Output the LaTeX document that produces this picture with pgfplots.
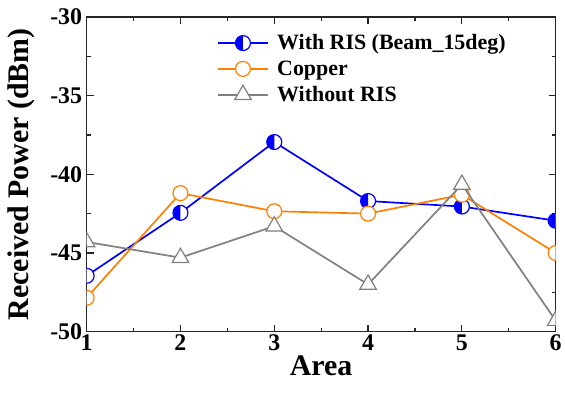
\documentclass[border=0pt]{standalone}
\usepackage{fontspec}
\setmainfont{Liberation Serif}
\usepackage{pgfplots}
\pgfplotsset{compat=1.18}
\definecolor{risblue}{RGB}{0,0,255}
\definecolor{copper}{RGB}{255,128,0}
\definecolor{norisgray}{RGB}{128,128,128}
\pgfdeclareplotmark{lefthalfcircle}{%
  \pgfpathcircle{\pgfpointorigin}{\pgfplotmarksize}%
  \pgfsetfillcolor{white}%
  \pgfusepathqfill
  \pgfpathmoveto{\pgfqpoint{0pt}{\pgfplotmarksize}}%
  \pgfpatharc{90}{270}{\pgfplotmarksize}%
  \pgfpathclose
  \pgfsetfillcolor{risblue}%
  \pgfusepathqfill
  \pgfpathcircle{\pgfpointorigin}{\pgfplotmarksize}%
  \pgfusepathqstroke
}
\begin{document}
\begin{tikzpicture}
\begin{axis}[
  scale only axis,
  width=471pt, height=316pt,
  xmin=1, xmax=6, ymin=-50, ymax=-30,
  xtick={1,2,3,4,5,6},
  ytick={-50,-45,-40,-35,-30},
  minor x tick num=1, minor y tick num=1,
  tick align=inside,
  major tick length=7pt, minor tick length=4pt,
  axis line style={line width=1.3pt, black!85},
  every tick/.style={line width=1.2pt, black!85},
  /pgf/number format/assume math mode=true,
  ticklabel style={font=\fontsize{24}{26}\selectfont\bfseries},
  xticklabel style={anchor=base, yshift=-19pt},
  yticklabel style={anchor=east, xshift=-1pt},
  xlabel={Area},
  ylabel={Received Power (dBm)},
  label style={font=\fontsize{30}{32}\selectfont\bfseries},
  xlabel style={at={(axis description cs:0.5,-0.14)}, anchor=base},
  ylabel style={at={(axis description cs:-0.139,0.5)}, anchor=center, rotate=0},
  clip marker paths=true,
  legend style={draw=none, fill=none, at={(rel axis cs:0.278,0.952)}, anchor=north west,
    font=\fontsize{22}{24}\selectfont\bfseries, row sep=4.5pt, inner sep=0pt,
    nodes={inner sep=2.5pt}},
  legend cell align=left,
  legend image code/.code={\draw[mark repeat=2,mark phase=2,#1] plot coordinates {(0pt,0pt) (25pt,0pt) (50pt,0pt)};
    \path (56pt,0pt);},
]
\addplot[risblue, line width=1.7pt, mark=lefthalfcircle, mark size=7.5pt, mark options={line width=1.2pt, draw=risblue}]
  coordinates {(1,-46.45) (2,-42.45) (3,-37.95) (4,-41.7) (5,-42.05) (6,-42.95)};
\addlegendentry{With RIS (Beam\_15deg)}
\addplot[copper, line width=1.7pt, mark=*, mark size=7.5pt, mark options={line width=1.2pt, fill=white, draw=copper}]
  coordinates {(1,-47.85) (2,-41.2) (3,-42.35) (4,-42.5) (5,-41.3) (6,-45.0)};
\addlegendentry{Copper}
\addplot[norisgray, line width=1.7pt, mark=triangle*, mark size=9.5pt, mark options={line width=1.2pt, fill=white, draw=norisgray}]
  coordinates {(1,-44.3) (2,-45.3) (3,-43.3) (4,-47.0) (5,-40.65) (6,-49.3)};
\addlegendentry{Without RIS}
\end{axis}
\path (current axis.south west) +(-87pt,-63pt);
\path (current axis.north east) +(7pt,17pt);
\end{tikzpicture}
\end{document}
